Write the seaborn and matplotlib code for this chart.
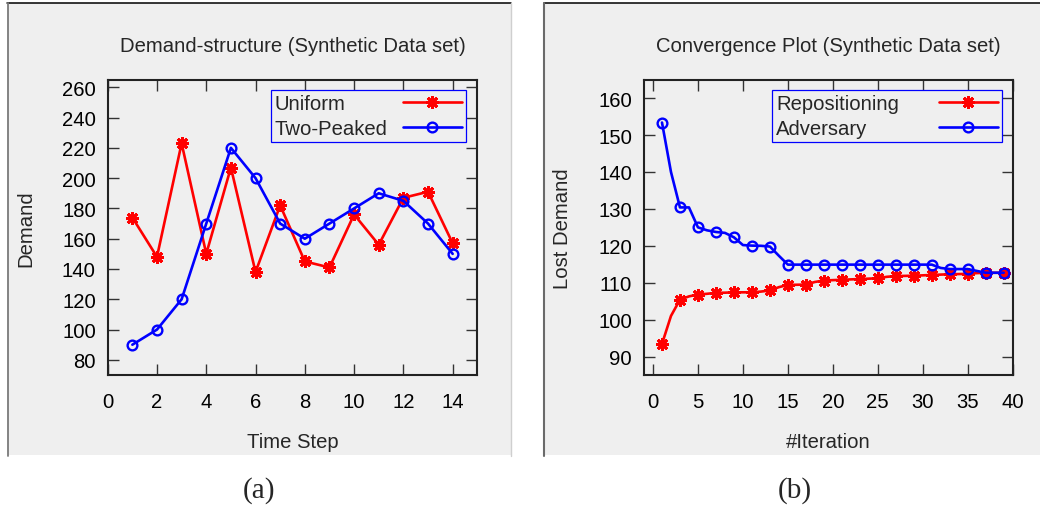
import numpy as np
import pandas as pd
import seaborn as sns
import matplotlib.pyplot as plt
from matplotlib.patches import Rectangle
from matplotlib.lines import Line2D

# Panel (a): demand per time step
time_step = list(range(1, 15))
uniform = [174, 148, 223, 150, 207, 138, 182, 145, 141, 176, 156, 187, 191, 157]
two_peaked = [90, 100, 120, 170, 220, 200, 170, 160, 170, 180, 190, 185, 170, 150]

# Panel (b): lost demand per iteration
iteration = list(range(1, 40))
repositioning = [93.4, 101.0, 105.4, 106.3, 106.8, 107.0, 107.25, 107.3, 107.4, 107.4,
                 107.4, 107.6, 107.9, 108.8, 109.4, 109.45, 109.5, 110.2, 110.6, 110.7,
                 110.8, 110.9, 111.0, 111.1, 111.2, 111.6, 111.8, 111.85, 111.9, 112.0,
                 112.1, 112.2, 112.3, 112.35, 112.4, 112.6, 112.7, 112.7, 112.7]
adversary = [153.4, 140.0, 130.4, 130.4, 125.0, 124.2, 123.75, 123.5, 122.3, 120.2,
             120.05, 120.0, 119.8, 117.3, 114.9, 114.9, 114.9, 114.9, 114.9, 114.9,
             114.9, 114.9, 114.9, 114.9, 114.9, 114.9, 114.9, 114.9, 114.9, 114.9,
             114.9, 114.0, 113.7, 113.7, 113.7, 113.2, 112.7, 112.7, 112.7]

titles = ["Demand-structure (Synthetic Data set)", "Convergence Plot (Synthetic Data set)"]
xlabels = ["Time Step", "#Iteration"]
ylabels = ["Demand", "Lost Demand"]
captions = ["(a)", "(b)"]

BG = "#efefef"
RED = "#ff0000"
BLUE = "#0000ff"
FS = 14.6

sns.set_theme(style="ticks")
plt.rcParams.update({
    "font.family": ["Liberation Sans", "DejaVu Sans"],
    "axes.facecolor": BG,
    "figure.facecolor": "white",
    "axes.edgecolor": "#222222",
    "axes.linewidth": 1.5,
    "xtick.color": "#333333",
    "ytick.color": "#333333",
    "xtick.labelcolor": "black",
    "ytick.labelcolor": "black",
})

W, H = 1040, 506
fig = plt.figure(figsize=(W / 100, H / 100), dpi=100)


def fx(px):
    return px / W


def fy(py):
    return 1 - py / H


# grey panel backgrounds and their frame lines
for x0, x1 in [(8, 510.5), (544, 1040)]:
    fig.add_artist(Rectangle((fx(x0), fy(456)), fx(x1 - x0), (456 - 4) / H,
                             transform=fig.transFigure, facecolor=BG,
                             edgecolor="none", zorder=-2))
fig.add_artist(Line2D([fx(7), fx(511)], [fy(4.3)] * 2, transform=fig.transFigure,
                      color="black", lw=1.1, zorder=-1))
fig.add_artist(Line2D([fx(544), fx(1040)], [fy(4.3)] * 2, transform=fig.transFigure,
                      color="black", lw=1.1, zorder=-1))
fig.add_artist(Line2D([fx(7.6)] * 2, [fy(4), fy(456.5)], transform=fig.transFigure,
                      color="#7a7a7a", lw=1.3, zorder=-1))
fig.add_artist(Line2D([fx(510.7)] * 2, [fy(4), fy(456.5)], transform=fig.transFigure,
                      color="#cfcfcf", lw=1.0, zorder=-1))
fig.add_artist(Line2D([fx(544.2)] * 2, [fy(4), fy(456.5)], transform=fig.transFigure,
                      color="#6a6a6a", lw=1.5, zorder=-1))

ax_a = fig.add_axes([fx(107.7), fy(376), fx(477.3 - 107.7), (376 - 80.7) / H])
ax_b = fig.add_axes([fx(644), fy(376), fx(1012.7 - 644), (376 - 80.7) / H])

star = (8, 2, 0)
line_kw = dict(lw=1.9, markersize=9.3, markeredgewidth=2.0)
circ_kw = dict(lw=1.9, markersize=7.0, markeredgewidth=1.7, markerfacecolor="none")

df_a = pd.DataFrame({"t": time_step, "uniform": uniform, "two": two_peaked})
sns.lineplot(data=df_a, x="t", y="uniform", ax=ax_a, color=RED, marker=star,
             markeredgecolor=RED, label="Uniform", **line_kw)
sns.lineplot(data=df_a, x="t", y="two", ax=ax_a, color=BLUE, marker="o",
             markeredgecolor=BLUE, label="Two-Peaked", **circ_kw)

df_b = pd.DataFrame({"it": iteration, "rep": repositioning, "adv": adversary})
sns.lineplot(data=df_b, x="it", y="rep", ax=ax_b, color=RED, marker=star,
             markeredgecolor=RED, markevery=2, label="Repositioning", **line_kw)
sns.lineplot(data=df_b, x="it", y="adv", ax=ax_b, color=BLUE, marker="o",
             markeredgecolor=BLUE, markevery=2, label="Adversary", **circ_kw)

ax_a.set_xlim(0, 15)
ax_a.set_ylim(70, 265)
ax_a.set_xticks(np.arange(0, 15, 2))
ax_a.set_yticks(np.arange(80, 261, 20))

ax_b.set_xlim(-1, 40)
ax_b.set_ylim(85, 165)
ax_b.set_xticks(np.arange(0, 41, 5))
ax_b.set_yticks(np.arange(90, 161, 10))

legends = []
for ax, title, xl, yl, tpad, anchor in [
        (ax_a, titles[0], xlabels[0], ylabels[0], 0.75, (1 - 11.6 / 369.6, 1 - 10 / 295.3)),
        (ax_b, titles[1], xlabels[1], ylabels[1], 1.95, (1 - 11.0 / 368.7, 1 - 10 / 295.3))]:
    ax.set_title(title, fontsize=FS, pad=21)
    ax.set_xlabel(xl, fontsize=FS, labelpad=15)
    ax.set_ylabel(yl, fontsize=FS, labelpad=19)
    ax.tick_params(axis="both", which="major", direction="in", length=8, width=1.0,
                   top=True, right=True, labelsize=FS)
    ax.tick_params(axis="y", pad=8.6)
    ax.tick_params(axis="x", pad=12.5)
    for s in ax.spines.values():
        s.set_visible(True)
        s.set_linewidth(1.5)
    leg = ax.legend(loc="upper right", bbox_to_anchor=anchor, borderaxespad=0,
                    markerfirst=False, fontsize=FS, handlelength=2.9,
                    handletextpad=tpad, borderpad=0.2, labelspacing=0.3,
                    frameon=True, fancybox=False, framealpha=1, facecolor=BG,
                    edgecolor=BLUE)
    leg.get_frame().set_linewidth(0.9)
    for ln in leg.get_lines():
        ln.set_markevery([1])
    legends.append(leg)

for cap, cx in zip(captions, [259, 795]):
    fig.text(fx(cx), fy(491), cap, ha="center", va="center", fontsize=21,
             family=["Liberation Serif", "DejaVu Serif"])

# left-align the legend labels while keeping the line samples flush right
fig.canvas.draw()
renderer = fig.canvas.get_renderer()
for leg in legends:
    for col in leg._legend_handle_box.get_children():
        rows = col.get_children()
        widths = [row.get_children()[0].get_bbox(renderer).width for row in rows]
        for row, w in zip(rows, widths):
            row.sep += (max(widths) - w) / renderer.points_to_pixels(1.0)

fig.savefig("out.png", dpi=100)
